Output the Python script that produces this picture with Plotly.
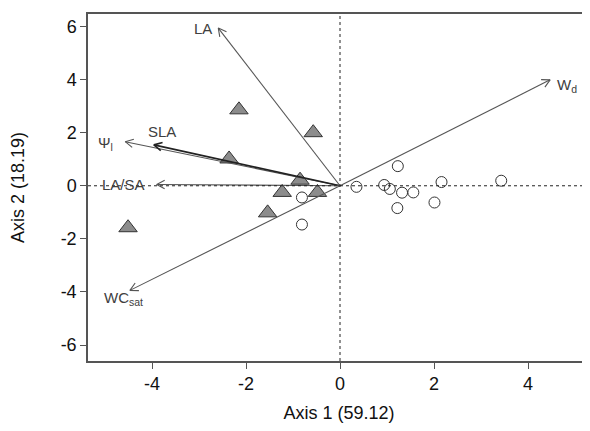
import math
import plotly.graph_objects as go

# ---- data ----
vec_names = ["LA", "Ψ<sub>l</sub>", "SLA", "LA/SA", "WC<sub>sat</sub>", "W<sub>d</sub>"]
vec_x = [-2.59, -4.57, -3.96, -3.90, -4.47, 4.47]
vec_y = [5.94, 1.66, 1.54, 0.05, -3.94, 3.99]

tri_x = [-4.51, -2.15, -0.57, -2.36, -0.85, -1.23, -0.48, -1.54]
tri_y = [-1.58, 2.86, 2.00, 1.01, 0.21, -0.25, -0.25, -1.02]

circ_x = [0.35, 0.94, 1.06, 1.23, 1.32, 1.56, 1.22, 2.01, 2.16, 3.43, -0.81, -0.81]
circ_y = [-0.04, 0.03, -0.12, 0.74, -0.26, -0.25, -0.84, -0.63, 0.14, 0.19, -0.44, -1.46]

x_ticks = [-4, -2, 0, 2, 4]
y_ticks = [-6, -4, -2, 0, 2, 4, 6]

# ---- layout geometry (page body adds an 8px offset) ----
W, H = 582, 415
ML, MR, MT, MB = 80, 0, 6, 62
XR = [-5.362, 5.319]
YR = [-6.60, 6.47]
sx = (W - ML - MR) / (XR[1] - XR[0])
sy = (H - MT - MB) / (YR[1] - YR[0])

FONT = "Liberation Sans, Arial, sans-serif"
LINE_COL = "#555555"

fig = go.Figure()

# points
fig.add_trace(go.Scatter(
    x=tri_x, y=tri_y, mode="markers",
    marker=dict(symbol="triangle-up", size=16, color="#8c8c8c",
                line=dict(color="#333333", width=1)),
    showlegend=False, hoverinfo="skip"))
fig.add_trace(go.Scatter(
    x=circ_x, y=circ_y, mode="markers",
    marker=dict(symbol="circle-open", size=11, color="#333333",
                line=dict(width=1)),
    showlegend=False, hoverinfo="skip"))

# arrows
head_len = 9.0
head_ang = math.radians(28)
for i, (vx, vy) in enumerate(zip(vec_x, vec_y)):
    col = "#222222" if i == 2 else LINE_COL
    wid = 1.6 if i == 2 else 1.1
    dx, dy = -vx * sx, -vy * sy
    n = math.hypot(dx, dy)
    ux, uy = dx / n, dy / n
    hx, hy = [], []
    for s in (1, -1):
        c, sn = math.cos(s * head_ang), math.sin(s * head_ang)
        rx = ux * c - uy * sn
        ry = ux * sn + uy * c
        hx.append(vx + rx * head_len / sx)
        hy.append(vy + ry * head_len / sy)
    xs = [0, vx, None, hx[0], vx, hx[1]]
    ys = [0, vy, None, hy[0], vy, hy[1]]
    fig.add_trace(go.Scatter(x=xs, y=ys, mode="lines",
                             line=dict(color=col, width=wid),
                             showlegend=False, hoverinfo="skip"))

# labels
label_style = [
    dict(xanchor="right", yanchor="middle", xshift=-4, yshift=0),     # LA
    dict(xanchor="right", yanchor="middle", xshift=-10, yshift=-2),   # Psi
    dict(xanchor="left", yanchor="middle", xshift=-8, yshift=13),     # SLA
    dict(xanchor="right", yanchor="middle", xshift=-10, yshift=0),    # LA/SA
    dict(xanchor="center", yanchor="middle", xshift=-6, yshift=-8),   # WCsat
    dict(xanchor="left", yanchor="middle", xshift=5, yshift=-6),      # Wd
]
for name, vx, vy, st in zip(vec_names, vec_x, vec_y, label_style):
    fig.add_annotation(x=vx, y=vy, text=name, showarrow=False,
                       font=dict(family=FONT, size=15, color="#404040"), **st)

# dotted zero lines
fig.add_shape(type="line", xref="x", yref="paper", x0=0, x1=0, y0=0, y1=1,
              line=dict(color="#222222", width=1, dash="dot"))
fig.add_shape(type="line", xref="paper", yref="y", x0=0, x1=1, y0=0, y1=0,
              line=dict(color="#222222", width=1, dash="dot"))

fig.update_layout(
    width=W, height=H,
    margin=dict(l=ML, r=MR, t=MT, b=MB, autoexpand=False),
    paper_bgcolor="white", plot_bgcolor="white",
    font=dict(family=FONT, color="#111111"),
    xaxis=dict(range=XR, tickvals=x_ticks, ticktext=[str(v) for v in x_ticks],
               automargin=False,
               showgrid=False, zeroline=False, showline=True, mirror=True,
               linecolor=LINE_COL, linewidth=1.5, ticks="outside", ticklen=6,
               tickcolor=LINE_COL, tickfont=dict(size=18, family=FONT),
               title=dict(text="Axis 1 (59.12)", font=dict(size=18, family=FONT),
                          standoff=16)),
    yaxis=dict(range=YR, tickvals=y_ticks, ticktext=[str(v) for v in y_ticks],
               automargin=False,
               showgrid=False, zeroline=False, showline=True, mirror=False,
               linecolor=LINE_COL, linewidth=1.5, ticks="outside", ticklen=6,
               tickcolor=LINE_COL, tickfont=dict(size=18, family=FONT),
               title=dict(text="Axis 2 (18.19)", font=dict(size=18, family=FONT),
                          standoff=31)),
)

fig.write_html("out.html")
